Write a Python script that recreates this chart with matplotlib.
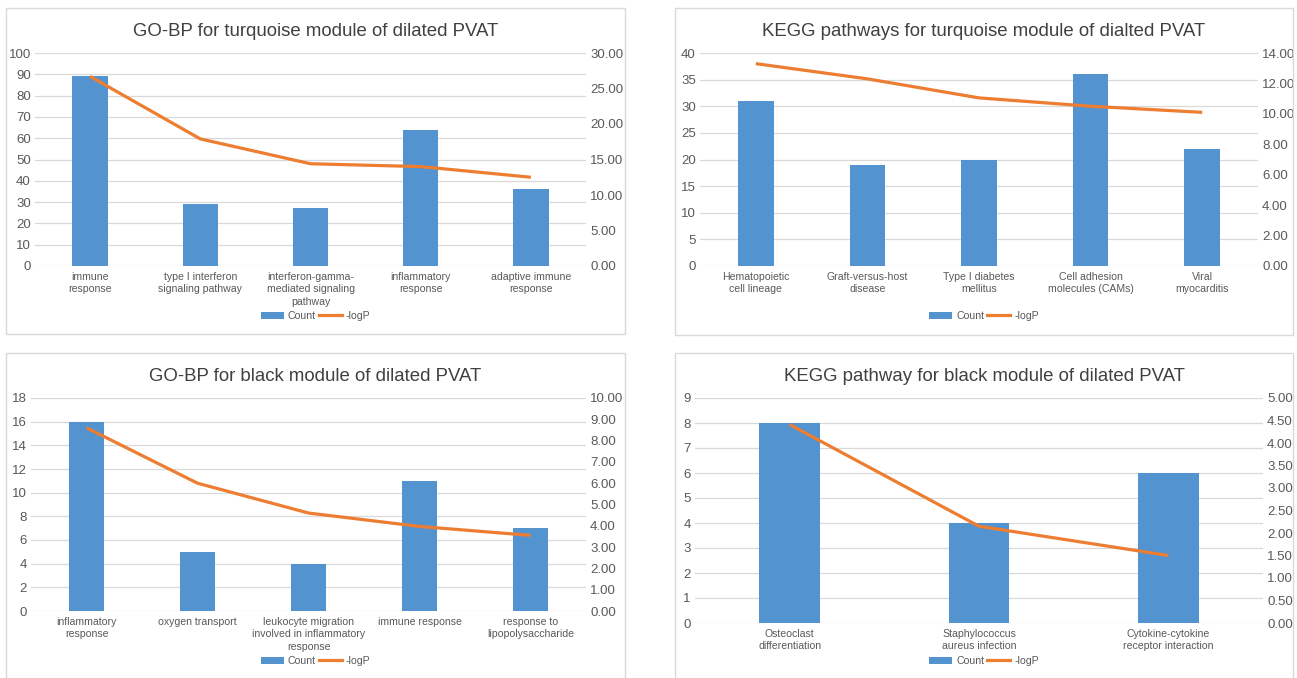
import numpy as np
import matplotlib
matplotlib.use('Agg')
import matplotlib.pyplot as plt
from matplotlib.patches import Rectangle, Patch
from matplotlib.lines import Line2D

plt.rcParams['font.family'] = ['Liberation Sans', 'DejaVu Sans']

W, H = 1297, 678
BAR_COLOR = '#5393CF'
LINE_COLOR = '#ED7D31'
GRID_COLOR = '#D9D9D9'
TEXT_COLOR = '#595959'

# GO-BP, turquoise module
go_turq_terms = ['immune\nresponse', 'type I interferon\nsignaling pathway',
                 'interferon-gamma-\nmediated signaling\npathway',
                 'inflammatory\nresponse', 'adaptive immune\nresponse']
go_turq_count = [89, 29, 27, 64, 36]
go_turq_logp = [26.7, 17.9, 14.4, 14.0, 12.5]

# KEGG, turquoise module
kegg_turq_terms = ['Hematopoietic\ncell lineage', 'Graft-versus-host\ndisease',
                   'Type I diabetes\nmellitus', 'Cell adhesion\nmolecules (CAMs)',
                   'Viral\nmyocarditis']
kegg_turq_count = [31, 19, 20, 36, 22]
kegg_turq_logp = [13.3, 12.3, 11.05, 10.5, 10.1]

# GO-BP, black module
go_black_terms = ['inflammatory\nresponse', 'oxygen transport',
                  'leukocyte migration\ninvolved in inflammatory\nresponse',
                  'immune response', 'response to\nlipopolysaccharide']
go_black_count = [16, 5, 4, 11, 7]
go_black_logp = [8.6, 6.0, 4.6, 3.97, 3.55]

# KEGG, black module
kegg_black_terms = ['Osteoclast\ndifferentiation', 'Staphylococcus\naureus infection',
                    'Cytokine-cytokine\nreceptor interaction']
kegg_black_count = [8, 4, 6]
kegg_black_logp = [4.41, 2.15, 1.50]


def px_rect(x0, y0, x1, y1):
    """pixel box (top-left origin) -> figure fraction rect"""
    return [x0 / W, 1 - y1 / H, (x1 - x0) / W, (y1 - y0) / H]


def draw_panel(fig, frame, plot_box, title, terms, counts, logp,
               ymax, ystep, y2max, y2step, title_y, legend_y):
    # light frame around each chart
    fx0, fy0, fx1, fy1 = frame
    fig.add_artist(Rectangle((fx0 / W, 1 - fy1 / H), (fx1 - fx0) / W, (fy1 - fy0) / H,
                             transform=fig.transFigure, fill=False,
                             edgecolor='#D9D9D9', linewidth=1.0))

    ax = fig.add_axes(px_rect(*plot_box))
    x = np.arange(len(terms))
    ax.bar(x, counts, width=0.32, color=BAR_COLOR, zorder=2)
    ax.set_xlim(-0.5, len(terms) - 0.5)
    ax.set_ylim(0, ymax)
    ax.set_yticks(np.arange(0, ymax + ystep / 2, ystep))
    ax.yaxis.grid(True, color=GRID_COLOR, linewidth=0.9, zorder=0)
    ax.set_axisbelow(True)
    ax.set_xticks(x)
    ax.set_xticklabels(terms, fontsize=7.6, color=TEXT_COLOR, linespacing=1.35)
    ax.tick_params(axis='x', length=0, pad=4)
    ax.tick_params(axis='y', length=0, labelsize=9.5, labelcolor=TEXT_COLOR, pad=3)
    for s in ax.spines.values():
        s.set_visible(False)

    ax2 = ax.twinx()
    ax2.plot(x, logp, color=LINE_COLOR, linewidth=2.3, solid_capstyle='butt', zorder=3)
    ax2.set_ylim(0, y2max)
    ax2.set_yticks(np.arange(0, y2max + y2step / 2, y2step))
    ax2.set_yticklabels(['%.2f' % v for v in np.arange(0, y2max + y2step / 2, y2step)])
    ax2.tick_params(axis='y', length=0, labelsize=9.5, labelcolor=TEXT_COLOR, pad=3)
    for s in ax2.spines.values():
        s.set_visible(False)

    cx = (fx0 + fx1) / 2 / W
    fig.text(cx, 1 - title_y / H, title, ha='center', va='center',
             fontsize=13.4, color='#404040')

    handles = [Patch(facecolor=BAR_COLOR, edgecolor='none'),
               Line2D([0], [0], color=LINE_COLOR, linewidth=2.3)]
    fig.legend(handles, ['Count', '-logP'], loc='center',
               bbox_to_anchor=(cx, 1 - legend_y / H), ncol=2, frameon=False,
               fontsize=7.6, labelcolor=TEXT_COLOR, handlelength=2.2,
               handleheight=0.6, handletextpad=0.35, columnspacing=0.3,
               borderpad=0)


fig = plt.figure(figsize=(W / 100, H / 100), dpi=100)

draw_panel(fig, (6, 8, 625, 334), (35, 53, 586, 266),
           'GO-BP for turquoise module of dilated PVAT',
           go_turq_terms, go_turq_count, go_turq_logp,
           100, 10, 30, 5, 31, 316)
draw_panel(fig, (675, 8, 1293, 335), (700, 53, 1258, 266),
           'KEGG pathways for turquoise module of dialted PVAT',
           kegg_turq_terms, kegg_turq_count, kegg_turq_logp,
           40, 5, 14, 2, 31, 316)
draw_panel(fig, (6, 353, 625, 690), (31, 398, 586, 611),
           'GO-BP for black module of dilated PVAT',
           go_black_terms, go_black_count, go_black_logp,
           18, 2, 10, 1, 376, 661)
draw_panel(fig, (675, 353, 1293, 690), (695, 398, 1263, 623),
           'KEGG pathway for black module of dilated PVAT',
           kegg_black_terms, kegg_black_count, kegg_black_logp,
           9, 1, 5, 0.5, 376, 661)

fig.savefig('out.png', dpi=100)
